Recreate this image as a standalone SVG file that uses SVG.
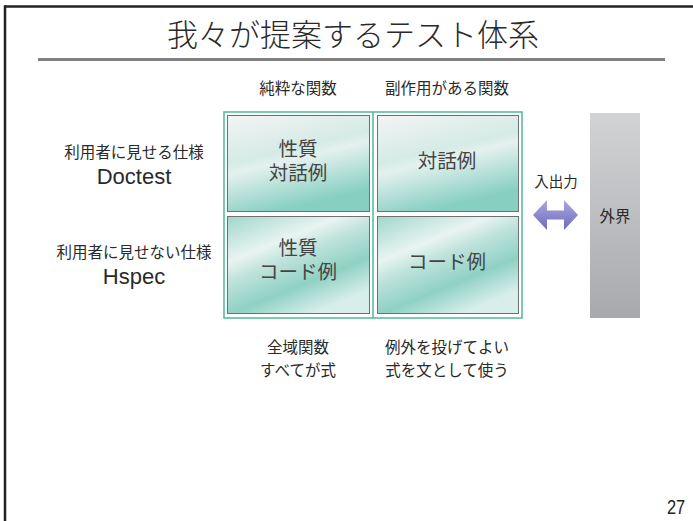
<svg xmlns="http://www.w3.org/2000/svg" width="693" height="521" viewBox="0 0 693 521">
<defs>
<linearGradient id="cellTop" x1="0" y1="0" x2="0.35" y2="1">
<stop offset="0" stop-color="#f3f4f4"/>
<stop offset="0.45" stop-color="#d5ebe6"/>
<stop offset="0.55" stop-color="#e4f1ee"/>
<stop offset="1" stop-color="#86cfc1"/>
</linearGradient>
<linearGradient id="cellBot" x1="0" y1="0" x2="0.6" y2="1">
<stop offset="0" stop-color="#9fd7cc"/>
<stop offset="0.35" stop-color="#e9f4f1"/>
<stop offset="0.5" stop-color="#bfe3db"/>
<stop offset="0.75" stop-color="#8fd1c4"/>
<stop offset="1" stop-color="#d8eeea"/>
</linearGradient>
<linearGradient id="bar" x1="0" y1="0" x2="0" y2="1">
<stop offset="0" stop-color="#d2d3d5"/>
<stop offset="1" stop-color="#a7a9ac"/>
</linearGradient>
<linearGradient id="arrowG" x1="0" y1="0" x2="0" y2="1">
<stop offset="0" stop-color="#aaa7e2"/>
<stop offset="1" stop-color="#6e6bbb"/>
</linearGradient>
</defs>
<style>
text{font-family:"Noto Sans CJK JP","Noto Sans",sans-serif;fill:#2a2a2a;text-anchor:middle}
.lbl{font-size:15.5px}
.cell{font-size:19.5px;fill:#444}
.lat{font-family:"Liberation Sans","Noto Sans CJK JP",sans-serif;font-size:22px}
.cellr{stroke:#6f6f6f;stroke-width:1}
</style>
<rect width="693" height="521" fill="#ffffff"/>
<g id="frame">
<line x1="5" y1="6.5" x2="693" y2="6.5" stroke="#222" stroke-width="2.5"/>
<line x1="5" y1="5.3" x2="5" y2="521" stroke="#222" stroke-width="2.5"/>
</g>
<g id="title">
<text x="353" y="46" style="font-size:31px;font-weight:300">我々が提案するテスト体系</text>
<line x1="38" y1="59.5" x2="665" y2="59.5" stroke="#808080" stroke-width="3"/>
</g>
<g id="headers">
<text class="lbl" x="298" y="94">純粋な関数</text>
<text class="lbl" x="447" y="94">副作用がある関数</text>
</g>
<g id="grid">
<rect x="224" y="112" width="298" height="206" fill="#ffffff" stroke="#4db89f" stroke-width="1.5"/>
<line x1="373" y1="112" x2="373" y2="318" stroke="#4db89f" stroke-width="1.5"/>
</g>
<g id="cell-pure-interactive">
<rect class="cellr" x="227.5" y="115.5" width="142" height="96" fill="url(#cellTop)"/>
<text class="cell" x="298" y="156">性質<tspan x="298" dy="24">対話例</tspan></text>
</g>
<g id="cell-side-interactive">
<rect class="cellr" x="377.5" y="115.5" width="141" height="96" fill="url(#cellTop)"/>
<text class="cell" x="447" y="168">対話例</text>
</g>
<g id="cell-pure-code">
<rect class="cellr" x="227.5" y="216.5" width="142" height="97" fill="url(#cellBot)"/>
<text class="cell" x="298" y="255">性質<tspan x="298" dy="24">コード例</tspan></text>
</g>
<g id="cell-side-code">
<rect class="cellr" x="377.5" y="216.5" width="141" height="97" fill="url(#cellBot)"/>
<text class="cell" x="447" y="269">コード例</text>
</g>
<g id="row-labels">
<text class="lbl" x="134" y="158">利用者に見せる仕様</text>
<text class="lat" x="134" y="184">Doctest</text>
<text class="lbl" x="134" y="258">利用者に見せない仕様</text>
<text class="lat" x="134" y="284">Hspec</text>
</g>
<g id="bottom-labels">
<text class="lbl" x="298" y="353">全域関数</text>
<text class="lbl" x="298" y="376">すべてが式</text>
<text class="lbl" x="447" y="353">例外を投げてよい</text>
<text class="lbl" x="447" y="376">式を文として使う</text>
</g>
<g id="connectors">
<text class="lbl" x="556" y="187" style="font-size:14.5px">入出力</text>
<path d="M533,215 L547,200 L547,210.5 L564,210.5 L564,200 L578,215 L564,230 L564,219.5 L547,219.5 L547,230 Z" fill="url(#arrowG)"/>
</g>
<g id="outside">
<rect x="590" y="113" width="50" height="205" fill="url(#bar)"/>
<text class="lbl" x="615" y="222">外界</text>
</g>
<g id="page">
<text x="0" y="0" transform="translate(676,514) scale(0.78,1)" style="font-family:'Liberation Sans',sans-serif;font-size:21px;fill:#222">27</text>
</g>
</svg>
